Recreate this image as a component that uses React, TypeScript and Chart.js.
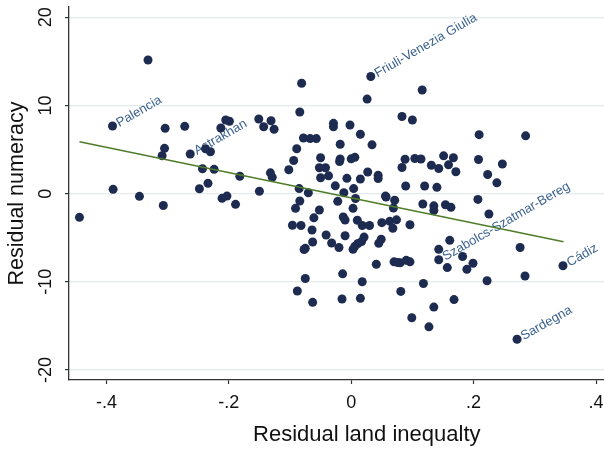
import React, { useEffect, useRef } from "react";
import { Chart, registerables } from "chart.js";

Chart.register(...registerables);

// Unlabeled observations (residual land inequality, residual numeracy)
const xValues = [
  -0.444, -0.389, -0.346, -0.332, -0.307, -0.309, -0.305, -0.304, -0.272, -0.248,
  -0.243, -0.238, -0.234, -0.230, -0.224, -0.213, -0.211, -0.205, -0.203, -0.199,
  -0.189, -0.182, -0.151, -0.143, -0.131, -0.126, -0.150, -0.132, -0.129, -0.102,
  -0.094, -0.089, -0.084, -0.081, -0.078, -0.067, -0.057, -0.085, -0.070, -0.084,
  -0.091, -0.050, -0.052, -0.042, -0.050, -0.037, -0.052, -0.061, -0.096, -0.082,
  -0.064, -0.075, -0.077, -0.063, -0.041, -0.032, -0.020, -0.075, -0.088, -0.063,
  -0.029, -0.029, -0.002, 0.015, 0.026, 0.083, 0.100, 0.116, -0.018, 0.034,
  -0.018, -0.019, 0.000, 0.006, -0.007, 0.015, 0.027, 0.044, 0.044, -0.026,
  -0.012, 0.004, -0.022, 0.007, 0.003, -0.013, -0.010, 0.010, 0.018, 0.030,
  -0.010, 0.003, 0.006, 0.011, 0.017, 0.021, -0.014, 0.018, -0.015, 0.015,
  0.056, 0.057, 0.071, 0.069, 0.050, 0.063, 0.074, 0.068, 0.096, 0.049,
  0.045, 0.041, 0.070, 0.076, 0.080, 0.090, 0.096, 0.081, 0.099, 0.088,
  0.104, 0.114, 0.083, 0.089, 0.120, 0.140, 0.117, 0.135, 0.135, 0.154,
  0.163, 0.151, 0.167, 0.131, 0.143, 0.159, 0.171, 0.208, 0.223, 0.247,
  0.238, 0.209, 0.285, 0.207, 0.225, 0.118, 0.127, 0.135, 0.143, 0.157,
  0.161, 0.182, 0.199, 0.189, 0.168, 0.222, 0.276, 0.284,
];
const yValues = [
  -2.68, 0.49, -0.30, 15.16, -1.34, 4.30, 5.14, 7.41, 7.64, 0.56,
  2.83, 5.10, 1.17, 4.76, 2.76, 7.45, -0.53, 8.35, -0.27, 8.21,
  -1.21, 1.97, 8.47, 7.59, 8.27, 7.30, 0.27, 2.36, 1.85, 2.71,
  3.76, 5.10, 9.26, 12.52, 6.31, 6.25, 6.25, 0.58, 0.11, -0.83,
  -1.66, 4.08, 2.94, 2.94, 1.80, 2.02, -1.85, -2.74, -3.58, -3.61,
  -4.12, -6.20, -6.33, -5.48, -4.69, -5.60, -6.11, -9.62, -11.04, -12.32,
  7.98, 7.58, 7.79, 6.74, 10.73, 8.75, 8.35, 11.76, 5.60, 5.54,
  3.93, 3.65, 3.95, 4.12, 1.74, 1.66, 2.46, 2.08, 1.72, 0.89,
  0.11, 0.58, -0.87, -0.55, -1.66, -2.65, -2.99, -3.02, -3.61, -3.61,
  -4.77, -6.31, -5.97, -5.65, -5.43, -4.92, -9.09, -9.99, -11.95, -11.87,
  -0.27, -0.38, -0.74, -1.63, -3.29, -3.14, -2.97, -3.92, -3.52, -5.17,
  -5.63, -8.00, -7.73, -7.81, -7.83, -7.56, -7.73, -11.08, -14.07, 3.90,
  3.99, 3.93, 2.97, 0.87, 0.87, 0.72, -1.17, -1.38, -1.91, -1.26,
  -1.55, 4.29, 4.07, 3.22, 2.85, 3.27, 2.49, 3.87, 2.17, 3.36,
  1.23, 6.69, 6.56, -0.65, -2.31, -10.19, -15.10, -12.86, -6.31, -8.38,
  -5.29, -7.13, -7.89, -8.58, -12.01, -9.88, -6.11, -9.34,
];

// Labeled observations
const labelNames = ["Palencia", "Astrakhan", "Friuli-Venezia Giulia", "Szabolcs-Szatmar-Bereg", "Cádiz", "Sardegna"];
const labelX = [-0.390, -0.263, 0.032, 0.143, 0.346, 0.271];
const labelY = [7.67, 4.50, 13.29, -7.49, -8.17, -16.51];

// Linear fit endpoints
const fitX = [-0.444, 0.347];
const fitY = [5.89, -5.45];

// Axes
const xTicks = [-0.4, -0.2, 0, 0.2, 0.4];
const xTickLabels = ["-.4", "-.2", "0", ".2", ".4"];
const yTicks = [-20, -10, 0, 10, 20];
const yTickLabels = ["-20", "-10", "0", "10", "20"];

const FONT = "'Liberation Sans', Arial, Helvetica, sans-serif";

const labelPlugin = {
  id: "obsLabels",
  beforeDatasetsDraw(chart: any) {
    const { ctx, scales } = chart;
    const xs = scales.x;
    const ys = scales.y;
    ctx.save();
    ctx.font = `13px ${FONT}`;
    ctx.fillStyle = "#3a6190";
    ctx.textAlign = "left";
    ctx.textBaseline = "middle";
    labelNames.forEach((name, i) => {
      const px = xs.getPixelForValue(labelX[i]);
      const py = ys.getPixelForValue(labelY[i]);
      ctx.save();
      ctx.translate(px + 5, py - 2);
      ctx.rotate(-Math.PI / 6);
      ctx.fillText(name, 0, 0);
      ctx.restore();
    });
    ctx.restore();
  },
};

export default function App() {
  const ref = useRef<HTMLCanvasElement | null>(null);

  useEffect(() => {
    if (!ref.current) return;
    const points = xValues.map((x, i) => ({ x, y: yValues[i] }));
    labelX.forEach((x, i) => points.push({ x, y: labelY[i] }));
    const fit = fitX.map((x, i) => ({ x, y: fitY[i] }));

    const chart = new Chart(ref.current, {
      type: "scatter",
      data: {
        datasets: [
          {
            data: fit,
            showLine: true,
            borderColor: "#4f7d2b",
            borderWidth: 1.5,
            pointRadius: 0,
            order: 0,
          } as any,
          {
            data: points,
            backgroundColor: "#1d2b51",
            borderWidth: 0,
            pointRadius: 4.5,
            order: 1,
          } as any,
        ],
      },
      options: {
        animation: false,
        responsive: false,
        events: [],
        layout: { padding: { top: 7, left: 0, right: 0, bottom: 0 } },
        plugins: { legend: { display: false }, tooltip: { enabled: false } },
        scales: {
          x: {
            type: "linear",
            min: -0.4611,
            max: 0.5119,
            afterBuildTicks: (s: any) => {
              s.ticks = xTicks.map((v) => ({ value: v }));
            },
            afterFit: (s: any) => {
              s.height = 69;
              s.paddingLeft = 0;
              s.paddingRight = 0;
            },
            ticks: {
              autoSkip: false,
              maxRotation: 0,
              minRotation: 0,
              padding: 8,
              color: "#111",
              font: { size: 18, family: FONT },
              callback: (_v: any, i: number) => xTickLabels[i],
            },
            grid: { drawOnChartArea: false, drawTicks: true, tickLength: 4, tickColor: "#333", tickWidth: 1.2 },
            border: { display: true, color: "#333", width: 1.3 },
            title: {
              display: true,
              text: "Residual land inequalty",
              color: "#111",
              font: { size: 22, family: FONT },
              padding: { top: 0, bottom: 1 },
            },
          },
          y: {
            type: "linear",
            min: -21.13,
            max: 21.17,
            afterBuildTicks: (s: any) => {
              s.ticks = yTicks.map((v) => ({ value: v }));
            },
            afterFit: (s: any) => {
              s.width = 69;
              s.paddingTop = 0;
              s.paddingBottom = 0;
            },
            ticks: {
              autoSkip: false,
              minRotation: 90,
              maxRotation: 90,
              crossAlign: "center",
              padding: 6,
              color: "#111",
              font: { size: 18, family: FONT },
              callback: (_v: any, i: number) => yTickLabels[i],
            },
            grid: { color: "#e3ebeb", lineWidth: 1.2, drawTicks: true, tickLength: 4, tickColor: "#333", tickWidth: 1.2 },
            border: { display: true, color: "#333", width: 1.3 },
            title: {
              display: true,
              text: "Residual numeracy",
              color: "#111",
              font: { size: 21.5, family: FONT },
              padding: { top: 4, bottom: 0 },
            },
          },
        },
      } as any,
      plugins: [labelPlugin],
    });
    return () => chart.destroy();
  }, []);

  return (
    <div style={{ position: "fixed", left: 0, top: 0, width: 604, height: 449, overflow: "hidden", background: "#fff" }}>
      <canvas ref={ref} width={669} height={449} style={{ width: 669, height: 449, display: "block" }} />
    </div>
  );
}
